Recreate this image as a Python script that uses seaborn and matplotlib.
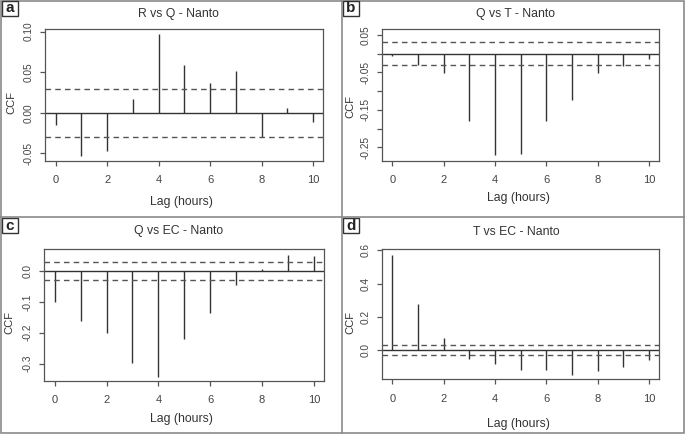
import matplotlib
matplotlib.use("Agg")
import matplotlib.pyplot as plt
import numpy as np
import pandas as pd
import seaborn as sns
from matplotlib.patches import Rectangle
from matplotlib.lines import Line2D

lags = list(range(11))
ccf_r_q = [-0.015, -0.053, -0.047, 0.017, 0.097, 0.059, 0.037, 0.052, -0.030, 0.006, -0.012]
ccf_q_t = [-0.005, -0.031, -0.051, -0.179, -0.272, -0.269, -0.179, -0.123, -0.051, -0.033, -0.014]
ccf_q_ec = [-0.099, -0.161, -0.201, -0.297, -0.343, -0.220, -0.135, -0.044, 0.006, 0.052, 0.049]
ccf_t_ec = [0.570, 0.280, 0.076, -0.050, -0.080, -0.116, -0.116, -0.146, -0.124, -0.100, -0.056]
conf = [0.0295, 0.0305, 0.0295, 0.029]
titles = ["R vs Q - Nanto", "Q vs T - Nanto", "Q vs EC - Nanto", "T vs EC - Nanto"]
letters = ["a", "b", "c", "d"]
yticks = [
    ([-0.05, 0.0, 0.05, 0.10], ["-0.05", "0.00", "0.05", "0.10"]),
    ([0.05, 0.0, -0.05, -0.10, -0.15, -0.20, -0.25], ["0.05", "", "-0.05", "", "-0.15", "", "-0.25"]),
    ([0.0, -0.1, -0.2, -0.3], ["0.0", "-0.1", "-0.2", "-0.3"]),
    ([0.0, 0.2, 0.4, 0.6], ["0.0", "0.2", "0.4", "0.6"]),
]
ylims = [(-0.0596, 0.1033), (-0.286, 0.066), (-0.356, 0.070), (-0.174, 0.606)]

df = pd.DataFrame({"lag": lags, "a": ccf_r_q, "b": ccf_q_t, "c": ccf_q_ec, "d": ccf_t_ec})

sns.set_theme(style="white")
plt.rcParams["font.family"] = ["Liberation Sans", "DejaVu Sans"]
plt.rcParams["axes.unicode_minus"] = False

W, H = 685, 434
fig = plt.figure(figsize=(W / 100, H / 100), dpi=100)
fig.patch.set_facecolor("white")

# axes boxes in pixel coords: x0, x1, ytop, ybottom
boxes = [(45.3, 323.3, 29, 161), (382, 659.3, 29, 160.7),
         (44.3, 324.3, 249.3, 381), (382, 659.3, 249.3, 379.3)]
# title, xlabel, ylabel centres (pixels from top-left)
title_pos = [(178, 14), (516, 13.5), (178.3, 231), (516.3, 231.7)]
xlab_pos = [(181.3, 202), (518.7, 198), (181.3, 419.3), (518.7, 424)]
ylab_pos = [(11.7, 103), (350.3, 106), (9.5, 323), (350.3, 323)]
line_col = "#333333"
text_col = "#444444"


def fx(px):
    return px / W


def fy(py):
    return (H - py) / H


for i, (x0, x1, yt, yb) in enumerate(boxes):
    ax = fig.add_axes([x0 / W, (H - yb) / H, (x1 - x0) / W, (yb - yt) / H])
    ax.set_facecolor("white")
    col = letters[i]
    ax.vlines(df["lag"], 0, df[col], color=line_col, lw=1.0)
    ax.axhline(0, color=line_col, lw=1.0)
    for s in (1, -1):
        ax.axhline(s * conf[i], color="#555555", lw=1.0, ls=(0, (4, 3)))
    ax.set_xlim(-0.4, 10.4)
    ax.set_ylim(*ylims[i])
    ax.set_xticks(range(0, 11, 2))
    ax.set_xticklabels([str(v) for v in range(0, 11, 2)], fontsize=8)
    ax.set_yticks(yticks[i][0])
    ax.set_yticklabels(yticks[i][1], rotation=90, va="center", fontsize=7.3)
    ax.tick_params(axis="both", direction="out", length=3.9, width=0.9, color="#555555",
                   labelcolor=text_col, left=True, bottom=True)
    ax.tick_params(axis="x", pad=6.5)
    ax.tick_params(axis="y", pad=4.5)
    for sp in ax.spines.values():
        sp.set_color("#555555")
        sp.set_linewidth(0.9)
    fig.text(fx(title_pos[i][0]), fy(title_pos[i][1]), titles[i], fontsize=8.8,
             color="#333333", ha="center", va="center")
    fig.text(fx(xlab_pos[i][0]), fy(xlab_pos[i][1]), "Lag (hours)", fontsize=8.8,
             color="#333333", ha="center", va="center")
    fig.text(fx(ylab_pos[i][0]), fy(ylab_pos[i][1]), "CCF", fontsize=8, rotation=90,
             color="#333333", ha="center", va="center")

# panel frame
frame_col = "#8a8a8a"
fig.add_artist(Rectangle((1 / W, 1 / H), (W - 2) / W, (H - 2) / H, transform=fig.transFigure,
                         fill=False, ec=frame_col, lw=1.2))
fig.add_artist(Line2D([342 / W, 342 / W], [0, 1], transform=fig.transFigure, color=frame_col, lw=1.2))
fig.add_artist(Line2D([0, 1], [(H - 217) / H, (H - 217) / H], transform=fig.transFigure, color=frame_col, lw=1.2))

# panel letters
for i, (px, py) in enumerate([(2, 1), (343, 1), (2, 218), (343, 218)]):
    fig.add_artist(Rectangle((px / W, (H - py - 15) / H), 16 / W, 15 / H, transform=fig.transFigure,
                             fc="white", ec="#333333", lw=1.0))
    fig.text((px + 8) / W, (H - py - 7.5) / H, letters[i], fontsize=11, fontweight="bold",
             color="#222222", ha="center", va="center")

fig.savefig("out.png", dpi=100)
